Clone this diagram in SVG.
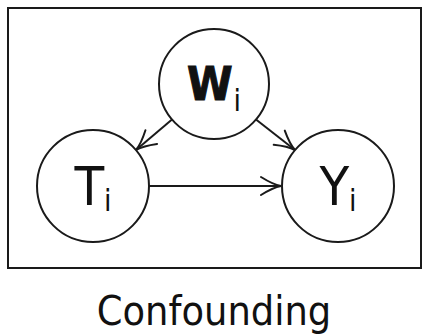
<svg xmlns="http://www.w3.org/2000/svg" width="424" height="336" viewBox="0 0 424 336">
  <style>
    .node circle { fill: #fff; stroke: #1a1a1a; stroke-width: 2; }
    .lbl { font-family: "DejaVu Sans Condensed", "DejaVu Sans", sans-serif; font-stretch: condensed; fill: #111; }
    .heavy { font-weight: bold; stroke: #111; stroke-width: 1; }
    .edge { stroke: #1a1a1a; stroke-width: 2; fill: none; marker-end: url(#vee); }
    .frame { fill: #fff; stroke: #1a1a1a; stroke-width: 2; }
  </style>
  <defs>
    <!-- open curved arrow head, tip at the path end -->
    <marker id="vee" markerUnits="userSpaceOnUse" viewBox="-24 -12 28 24" refX="0" refY="0"
            markerWidth="28" markerHeight="24" orient="auto" overflow="visible">
      <path d="M-20,-9 Q-8,-1.5 0,0 Q-8,1.5 -20,9" fill="none" stroke="#1a1a1a" stroke-width="2" stroke-linecap="round"/>
    </marker>
  </defs>

  <rect class="frame" x="8" y="8" width="413" height="260"/>

  <g id="edges">
    <line class="edge" x1="172" y1="119.5" x2="136" y2="150"/>
    <line class="edge" x1="256" y1="119.5" x2="295" y2="150"/>
    <line class="edge" x1="149" y1="186" x2="281" y2="186"/>
  </g>

  <g id="node-W" class="node">
    <circle cx="214" cy="84" r="55"/>
    <text class="lbl" x="214" y="100" text-anchor="middle" font-size="46"><tspan class="heavy">W</tspan><tspan font-size="30" dx="1" dy="11">i</tspan></text>
  </g>

  <g id="node-T" class="node">
    <circle cx="93" cy="186" r="56"/>
    <text class="lbl" x="93" y="205" text-anchor="middle" font-size="54">T<tspan font-size="30" dy="6">i</tspan></text>
  </g>

  <g id="node-Y" class="node">
    <circle cx="338" cy="186" r="56"/>
    <text class="lbl" x="338" y="205" text-anchor="middle" font-size="54">Y<tspan font-size="30" dy="6">i</tspan></text>
  </g>

  <g id="caption">
    <text class="lbl" x="214" y="325" text-anchor="middle" font-size="41">Confounding</text>
  </g>
</svg>
